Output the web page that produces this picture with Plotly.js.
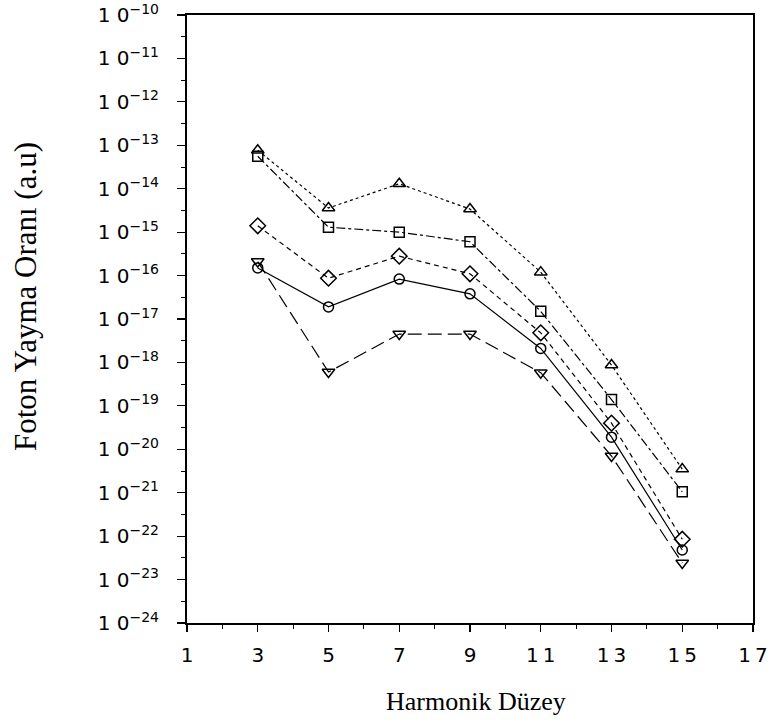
<!DOCTYPE html>
<html>
<head>
<meta charset="utf-8">
<script src="https://cdn.plot.ly/plotly-3.0.1.min.js"></script>
<style>html,body{margin:0;padding:0;background:#fff;}#chart{width:772px;height:726px;}</style>
</head>
<body>
<div id="chart"></div>
<script>
const harmonics = [3, 5, 7, 9, 11, 13, 15];
const seriesTriangle = [7.7e-14, 3.6e-15, 1.3e-14, 3.4e-15, 1.2e-16, 8.7e-19, 3.5e-21];
const seriesSquare   = [5.6e-14, 1.3e-15, 1.0e-15, 6.0e-16, 1.5e-17, 1.4e-19, 1.05e-21];
const seriesDiamond  = [1.4e-15, 8.7e-17, 2.8e-16, 1.1e-16, 4.8e-18, 4.0e-20, 8.5e-23];
const seriesCircle   = [1.5e-16, 1.9e-17, 8.3e-17, 3.8e-17, 2.1e-18, 1.9e-20, 4.8e-23];
const seriesTriDown  = [2.1e-16, 6.0e-19, 4.5e-18, 4.5e-18, 5.8e-19, 7.0e-21, 2.4e-23];

const xTickVals = [1, 3, 5, 7, 9, 11, 13, 15, 17];
const xTickText = ['1', '3', '5', '7', '9', '1\u20091', '1\u20093', '1\u20095', '1\u20097'];
const yExponents = [-10, -11, -12, -13, -14, -15, -16, -17, -18, -19, -20, -21, -22, -23, -24];

const yTickVals = yExponents.map(e => Math.pow(10, e));
const yTickText = yExponents.map(e => '1 0<sup>\u2212' + Math.abs(e) + '</sup>');
const yMinor = [];
for (let e = -24; e < -10; e++) yMinor.push(Math.pow(10, e + 0.5));

function tr(y, sym, dash, size) {
  return {
    x: harmonics, y: y, type: 'scatter', mode: 'lines+markers',
    line: {color: '#000', width: 1.2, dash: dash},
    marker: {symbol: sym, size: size, color: '#000', line: {color: '#000', width: 1.5}},
    showlegend: false, hoverinfo: 'skip'
  };
}

const data = [
  tr(seriesTriangle, 'triangle-up-open', 'dot', 11),
  tr(seriesSquare, 'square-open', 'dashdot', 10),
  tr(seriesDiamond, 'diamond-open', '5px,4px', 12),
  tr(seriesCircle, 'circle-open', 'solid', 10),
  tr(seriesTriDown, 'triangle-down-open', '14px,6px', 11)
];

const tickFont = {family: 'DejaVu Sans, sans-serif', size: 20, color: '#000'};

const layout = {
  width: 772, height: 726,
  margin: {l: 187, r: 19, t: 15, b: 103},
  paper_bgcolor: '#fff', plot_bgcolor: '#fff',
  xaxis: {
    range: [1, 17], tickmode: 'array', tickvals: xTickVals, ticktext: xTickText,
    ticks: 'outside', ticklen: 7, tickwidth: 1.2, tickcolor: '#000',
    minor: {tickvals: [2, 4, 6, 8, 10, 12, 14, 16], ticks: 'outside', ticklen: 4, tickcolor: '#000', tickwidth: 1},
    showline: true, linecolor: '#000', linewidth: 2, mirror: true,
    showgrid: false, zeroline: false, tickfont: tickFont, ticklabelstandoff: 6
  },
  yaxis: {
    type: 'log', range: [-24, -10], tickmode: 'array', tickvals: yTickVals, ticktext: yTickText,
    ticks: 'outside', ticklen: 8, tickwidth: 1.2, tickcolor: '#000',
    minor: {tickvals: yMinor, ticks: 'outside', ticklen: 4, tickcolor: '#000', tickwidth: 1},
    showline: true, linecolor: '#000', linewidth: 2, mirror: true,
    showgrid: false, zeroline: false, tickfont: tickFont, ticklabelstandoff: 14
  },
  annotations: [
    {text: 'Foton Yayma Oranı (a.u)', xref: 'paper', yref: 'paper', x: 0, y: 0.536,
     xanchor: 'center', yanchor: 'middle', xshift: -162, textangle: -90, showarrow: false,
     font: {family: 'Liberation Serif, Times New Roman, serif', size: 31, color: '#000'}},
    {text: 'Harmonik Düzey', xref: 'paper', yref: 'paper', x: 0.51, y: 0,
     xanchor: 'center', yanchor: 'middle', yshift: -78, showarrow: false,
     font: {family: 'Liberation Serif, Times New Roman, serif', size: 26, color: '#000'}}
  ]
};

Plotly.newPlot('chart', data, layout, {displayModeBar: false, staticPlot: true});
</script>
</body>
</html>
